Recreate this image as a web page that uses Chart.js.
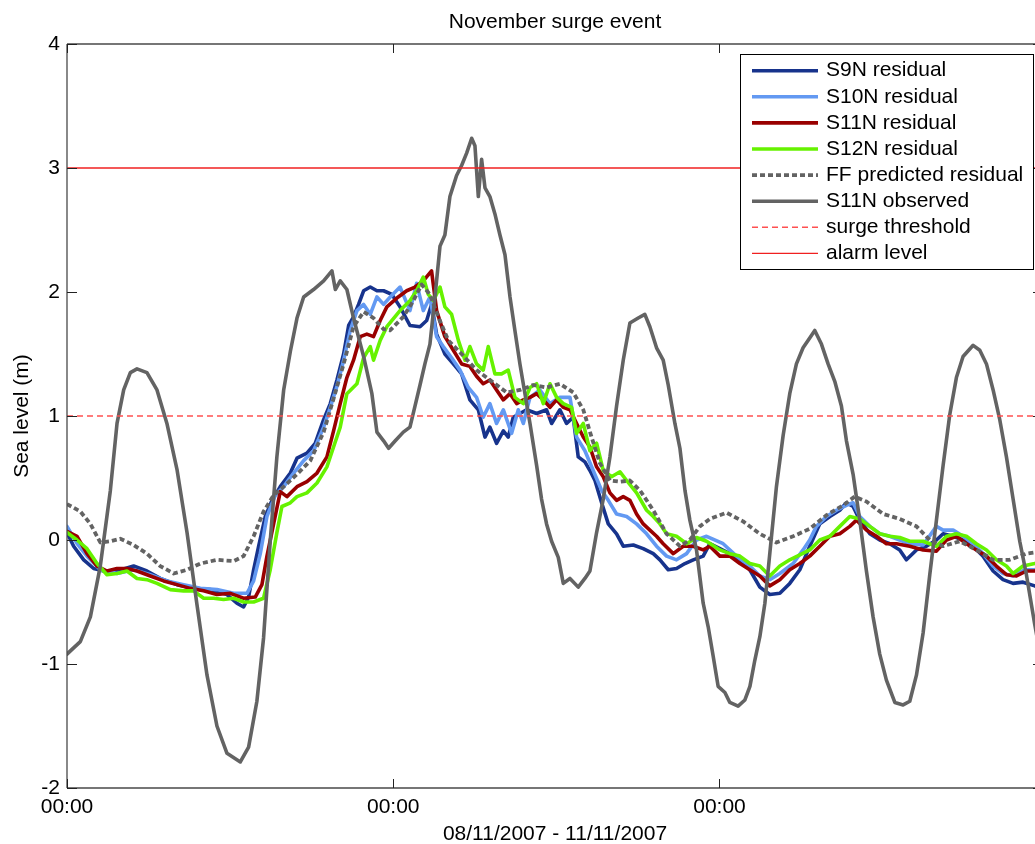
<!DOCTYPE html>
<html>
<head>
<meta charset="utf-8">
<title>November surge event</title>
<script src="https://cdn.jsdelivr.net/npm/chart.js@4.4.1/dist/chart.umd.min.js"></script>
<style>
  html, body { margin: 0; padding: 0; overflow: hidden; background: #ffffff; }
  #wrap { position: absolute; left: 0; top: 0; width: 1050px; height: 844px; }
  canvas { display: block; }
</style>
</head>
<body>
<div id="wrap"><canvas id="surge" width="1050" height="844" style="width:1050px;height:844px"></canvas></div>
<script>
// Time axis: hours since 08/11/2007 00:00
const timeTicks = [0, 24, 48];
const timeTickLabels = ['00:00', '00:00', '00:00'];
const levelTicks = [-2, -1, 0, 1, 2, 3, 4];
const timeSpan = [0, 71.8];

const surgeThreshold = 1;
const alarmLevel = 3;

// [hour, sea level (m)]
const s9nResidual = [
  [0,0.06],[0.49,-0.05],[1.23,-0.16],[1.96,-0.23],[2.70,-0.25],[3.68,-0.25],[4.90,-0.21],[5.88,-0.25],[6.86,-0.31],[8.09,-0.36],
  [9.32,-0.39],[10.54,-0.40],[11.77,-0.44],[12.50,-0.51],[12.99,-0.54],[13.36,-0.46],[13.73,-0.24],[14.10,-0.05],[14.59,0.19],[15.08,0.32],
  [15.69,0.43],[16.43,0.54],[16.92,0.66],[17.65,0.70],[18.26,0.78],[18.88,0.97],[19.37,1.10],[19.86,1.29],[20.35,1.50],[20.72,1.73],
  [21.08,1.80],[21.45,1.90],[21.82,2.01],[22.31,2.04],[22.80,2.01],[23.29,2.01],[23.90,1.98],
  [24.50,1.88],[25.23,1.73],[25.97,1.72],[26.46,1.77],[26.82,1.90],[27.19,1.66],[27.80,1.50],[28.42,1.42],[29.03,1.34],[29.64,1.13],
  [30.26,1.05],[30.75,0.83],[31.11,0.91],[31.60,0.78],[32.10,0.88],[32.46,0.83],[32.83,0.99],[33.32,1.02],[33.81,1.05],[34.55,1.02],
  [35.28,1.05],[35.65,0.94],[36.26,1.05],[36.75,0.94],[37.24,0.99],[37.61,0.67],[38.10,0.63],[38.47,0.56],[38.84,0.48],[39.33,0.30],
  [39.82,0.13],[40.43,0.05],[40.92,-0.05],[41.66,-0.04],[42.39,-0.07],[43.13,-0.11],[43.62,-0.16],[44.23,-0.24],[44.84,-0.23],[45.46,-0.19],
  [46.07,-0.16],[46.80,-0.13],
  [47.29,-0.03],[48.03,-0.07],[48.76,-0.11],[49.50,-0.16],[50.23,-0.24],[50.97,-0.38],[51.70,-0.44],[52.44,-0.43],
  [53.17,-0.35],[53.91,-0.24],[54.64,-0.05],[55.38,0.13],[56.12,0.19],[56.85,0.24],[57.34,0.30],[57.83,0.27],[58.32,0.16],[59.06,0.05],
  [59.79,0.00],[60.53,-0.03],[61.26,-0.08],[61.75,-0.16],[62.49,-0.08],[63.22,-0.05],[63.96,0.00],[64.45,0.05],[65.19,0.03],[65.92,0.00],
  [66.66,-0.05],[67.39,-0.13],[68.13,-0.25],[68.86,-0.32],[69.60,-0.35],[70.33,-0.34],[71.19,-0.37],[71.8,-0.40]
];

const s10nResidual = [
  [0,0.11],[0.74,-0.03],[1.47,-0.13],[2.45,-0.24],[3.68,-0.27],[4.90,-0.24],[6.13,-0.28],[7.35,-0.33],[8.58,-0.36],[9.81,-0.39],
  [11.03,-0.40],[12.26,-0.43],[13.24,-0.43],[13.73,-0.33],[14.22,-0.11],[14.71,0.19],[15.32,0.36],[15.94,0.43],[16.67,0.54],[17.41,0.64],
  [18.14,0.72],[18.88,0.91],[19.37,1.07],[19.86,1.24],[20.35,1.45],[20.84,1.69],[21.33,1.85],[21.82,1.90],[22.31,1.82],[22.80,1.96],
  [23.29,1.90],[23.78,1.96],
  [24.50,2.04],[25.23,1.85],[25.72,2.07],[26.21,1.85],[26.70,1.96],[27.19,1.64],[27.68,1.56],[28.29,1.47],[28.91,1.37],[29.52,1.23],
  [30.13,1.15],[30.62,0.99],[31.11,1.10],[31.60,0.94],[32.10,1.05],[32.71,0.86],[33.20,1.05],[33.57,0.94],[34.06,1.15],[34.79,1.21],
  [35.53,1.10],[36.26,1.15],[37.00,1.15],[37.49,0.83],[38.10,0.72],[38.71,0.56],[39.33,0.40],[39.82,0.32],[40.43,0.21],[41.17,0.19],
  [41.90,0.13],[42.64,0.05],[43.37,-0.05],[44.11,-0.13],[44.84,-0.16],[45.58,-0.11],[46.31,0.00],[47.05,0.03],
  [48.27,-0.03],[49.25,-0.13],[50.23,-0.21],[50.97,-0.29],[51.70,-0.32],[52.44,-0.27],[53.42,-0.19],[54.15,-0.08],[54.64,0.00],[55.13,0.11],
  [55.87,0.19],[56.61,0.24],[57.34,0.28],[57.83,0.30],[58.32,0.19],[59.06,0.11],[59.79,0.05],[60.53,0.03],[61.26,0.00],[62.00,-0.03],
  [62.98,-0.04],[63.96,0.11],[64.45,0.08],[65.19,0.08],[65.92,0.03],[66.66,-0.03],[67.39,-0.11],[68.13,-0.21],[68.86,-0.27],[69.60,-0.29],
  [70.46,-0.24],[71.19,-0.24],[71.8,-0.22]
];

const s11nResidual = [
  [0,0.07],[0.74,0.03],[1.47,-0.11],[2.21,-0.21],[2.94,-0.25],[3.68,-0.23],[4.41,-0.23],[5.15,-0.25],[6.13,-0.29],[7.11,-0.33],
  [8.09,-0.36],[9.07,-0.39],[10.05,-0.41],[11.03,-0.44],[12.01,-0.43],[12.99,-0.47],[13.85,-0.46],[14.34,-0.36],[14.71,-0.13],[15.20,0.13],
  [15.69,0.39],[16.18,0.35],[16.92,0.43],[17.65,0.47],[18.39,0.54],[19.12,0.67],[19.61,0.88],[20.10,1.10],[20.59,1.31],[21.08,1.45],
  [21.57,1.64],[22.06,1.66],[22.55,1.64],[23.04,1.77],[23.53,1.88],
  [24.37,1.96],[24.99,2.01],[25.60,2.04],[26.21,2.09],[26.82,2.17],[27.19,1.85],[27.80,1.64],[28.42,1.53],[29.03,1.42],[29.64,1.40],
  [30.13,1.32],[30.62,1.26],[31.11,1.29],[31.60,1.21],[32.10,1.13],[32.59,1.18],[33.08,1.10],[33.57,1.13],[34.06,1.15],[34.55,1.18],
  [35.04,1.13],[35.53,1.07],[36.02,1.13],[36.51,1.07],[37.00,1.05],[37.49,0.94],[37.98,0.83],[38.47,0.75],[38.96,0.59],[39.45,0.51],
  [39.94,0.38],[40.43,0.32],[40.92,0.35],[41.41,0.32],[41.90,0.21],[42.39,0.13],[42.88,0.08],[43.37,0.03],[43.86,-0.03],[44.60,-0.11],
  [45.33,-0.05],[46.07,-0.05],[46.80,-0.08],
  [47.29,-0.05],[48.03,-0.13],[48.76,-0.13],[49.50,-0.19],[50.23,-0.24],[50.97,-0.29],[51.70,-0.37],[52.44,-0.32],[53.17,-0.24],[53.91,-0.19],
  [54.64,-0.13],[55.38,-0.05],[56.12,0.03],[56.85,0.05],[57.59,0.11],[58.08,0.16],[58.81,0.08],[59.55,0.03],[60.28,-0.03],[61.02,-0.03],
  [62.00,-0.05],[62.98,-0.08],[63.96,-0.09],[64.70,0.00],[65.43,0.03],[66.17,-0.03],[66.90,-0.08],[67.64,-0.13],[68.37,-0.21],[69.11,-0.28],
  [69.85,-0.29],[70.58,-0.25],[71.19,-0.25],[71.8,-0.23]
];

const s12nResidual = [
  [0,0.06],[0.74,0.00],[1.47,-0.07],[2.21,-0.19],[2.94,-0.28],[3.68,-0.27],[4.41,-0.25],[5.15,-0.31],[5.88,-0.32],[6.62,-0.35],
  [7.60,-0.40],[8.58,-0.41],[9.32,-0.41],[10.05,-0.47],[10.79,-0.47],[11.52,-0.48],[12.26,-0.47],[12.99,-0.50],[13.73,-0.50],[14.46,-0.47],
  [14.95,-0.24],[15.44,0.06],[15.81,0.27],[16.43,0.30],[16.92,0.35],[17.65,0.38],[18.39,0.46],[19.12,0.59],[19.61,0.75],[20.10,0.91],
  [20.59,1.18],[21.33,1.26],[21.82,1.47],[22.31,1.56],[22.55,1.45],[23.04,1.61],[23.53,1.72],
  [24.50,1.85],[25.23,1.93],[25.72,2.01],[26.21,2.12],[26.58,1.98],[26.95,1.93],[27.44,2.04],[27.80,1.88],[28.29,1.82],[28.79,1.61],
  [29.28,1.45],[29.64,1.56],[30.13,1.42],[30.62,1.37],[30.99,1.56],[31.48,1.34],[31.97,1.34],[32.46,1.37],[32.95,1.15],[33.57,1.10],
  [34.06,1.23],[34.55,1.26],[35.04,1.10],[35.53,1.26],[36.02,1.15],[36.51,1.10],[37.12,1.07],[37.49,0.86],[37.98,0.94],[38.47,0.72],
  [38.96,0.78],[39.45,0.56],[40.06,0.51],[40.68,0.55],[41.17,0.48],[41.90,0.38],[42.64,0.24],[43.13,0.19],[43.62,0.13],[44.11,0.05],
  [44.84,0.03],[45.58,-0.03],[46.31,0.02],[47.05,-0.01],
  [48.03,-0.08],[48.76,-0.11],[49.50,-0.13],[50.23,-0.19],[50.97,-0.21],[51.70,-0.29],[52.44,-0.21],[53.17,-0.16],[53.91,-0.12],[54.64,-0.08],
  [55.38,0.00],[56.12,0.03],[56.85,0.11],[57.59,0.19],[58.32,0.17],[59.06,0.11],[59.79,0.05],[60.53,0.03],[61.26,0.02],[62.00,-0.01],
  [62.98,-0.01],[63.96,-0.05],[64.70,0.03],[65.43,0.05],[66.17,0.03],[66.90,-0.03],[67.64,-0.08],[68.37,-0.16],[69.11,-0.21],[69.60,-0.27],
  [70.33,-0.21],[71.19,-0.19],[71.8,-0.17]
];

const ffPredicted = [
  [0,0.29],[0.98,0.23],[1.72,0.13],[2.45,-0.02],[3.19,-0.01],[3.92,0.01],[4.90,-0.04],[5.88,-0.11],[6.86,-0.21],[7.85,-0.27],
  [8.83,-0.24],[9.81,-0.19],[11.03,-0.16],[12.26,-0.17],[12.99,-0.13],[13.73,0.03],[14.46,0.23],[15.20,0.36],[15.94,0.43],[16.92,0.53],
  [17.90,0.64],[18.88,0.87],[19.61,1.14],[20.35,1.42],[21.08,1.72],[21.82,1.84],[22.55,1.79],[23.29,1.70],[23.76,1.69],[24.74,1.80],
  [25.48,1.93],[26.09,2.06],[26.70,1.98],[27.31,1.80],[28.05,1.61],[29.03,1.50],[30.13,1.37],[31.36,1.27],[32.34,1.19],[33.32,1.21],
  [34.30,1.25],[35.28,1.23],[36.26,1.26],[37.24,1.19],[37.98,1.05],[38.59,0.83],[39.20,0.62],[39.94,0.48],[40.68,0.47],[41.41,0.48],
  [42.15,0.40],[43.13,0.24],[44.11,0.05],[45.09,-0.05],[45.82,0.00],[46.56,0.11],[47.29,0.17],[48.52,0.22],[49.74,0.15],[50.97,0.05],
  [52.19,-0.02],[53.42,0.03],[54.64,0.09],[55.87,0.20],[57.10,0.28],[57.95,0.35],[58.81,0.31],[60.04,0.21],[61.26,0.17],[62.49,0.11],
  [63.47,0.00],[64.45,-0.05],[65.68,-0.01],[66.90,-0.08],[68.13,-0.16],[69.35,-0.16],[70.58,-0.11],[71.19,-0.10],[71.8,-0.09]
];

const s11nObserved = [
  [0,-0.92],[0.98,-0.82],[1.72,-0.62],[2.45,-0.21],[3.19,0.40],[3.68,0.94],[4.17,1.21],[4.66,1.35],[5.15,1.38],[5.88,1.35],
  [6.62,1.21],[7.35,0.94],[8.09,0.57],[8.83,0.06],[9.56,-0.52],[10.30,-1.09],[11.03,-1.50],[11.77,-1.72],[12.75,-1.79],[13.36,-1.67],
  [13.97,-1.30],[14.46,-0.79],[14.95,-0.01],[15.44,0.67],[15.94,1.21],[16.43,1.52],[16.92,1.79],[17.41,1.96],[18.14,2.02],[18.88,2.09],
  [19.49,2.17],[19.74,2.02],[20.10,2.09],[20.59,2.02],[21.08,1.79],[21.82,1.48],[22.43,1.18],[22.80,0.87],[23.29,0.80],[23.66,0.74],
  [24.15,0.80],[24.74,0.87],[25.23,0.91],[25.60,1.08],[25.97,1.25],[26.33,1.42],[26.70,1.58],[27.07,1.96],[27.44,2.37],[27.80,2.46],
  [28.17,2.77],[28.66,2.94],[29.03,3.02],[29.40,3.12],[29.77,3.24],[30.01,3.18],[30.26,2.77],[30.50,3.07],[30.75,2.84],[31.11,2.77],
  [31.48,2.63],[31.85,2.46],[32.22,2.30],[32.59,1.96],[32.95,1.69],[33.32,1.42],[33.69,1.18],[34.06,0.94],[34.55,0.60],[34.91,0.33],
  [35.28,0.13],[35.65,-0.01],[36.14,-0.14],[36.51,-0.35],[37.00,-0.31],[37.61,-0.38],[38.10,-0.31],[38.47,-0.25],[38.96,0.06],[39.45,0.33],
  [39.94,0.67],[40.43,1.08],[40.92,1.45],[41.41,1.75],[42.02,1.79],[42.51,1.82],[42.88,1.72],[43.37,1.55],[43.86,1.45],[44.23,1.25],
  [44.72,0.94],[45.09,0.74],[45.46,0.40],[45.82,0.16],[46.31,-0.08],[46.80,-0.51],[47.17,-0.70],[47.54,-0.94],[47.90,-1.18],[48.40,-1.23],
  [48.76,-1.31],[49.37,-1.34],[49.87,-1.29],[50.24,-1.18],[50.60,-0.97],[50.97,-0.78],[51.34,-0.51],[51.71,-0.10],[52.19,0.43],[52.68,0.84],
  [53.17,1.18],[53.66,1.42],[54.15,1.55],[54.64,1.63],[55.01,1.69],[55.50,1.58],[55.99,1.42],[56.48,1.28],[56.97,1.08],[57.34,0.80],
  [57.83,0.53],[58.32,0.16],[58.81,-0.25],[59.30,-0.62],[59.79,-0.92],[60.28,-1.13],[60.90,-1.31],[61.51,-1.33],[62.00,-1.30],[62.49,-1.09],
  [62.98,-0.75],[63.47,-0.28],[63.96,0.16],[64.45,0.60],[64.94,1.01],[65.43,1.31],[65.92,1.48],[66.66,1.57],[67.15,1.53],[67.64,1.42],
  [68.13,1.21],[68.62,0.97],[69.11,0.67],[69.60,0.33],[70.09,-0.01],[70.58,-0.28],[71.19,-0.68],[71.8,-1.05]
];

const FONT = '"Liberation Sans", Arial, Helvetica, sans-serif';
const toPoints = rows => rows.map(r => ({ x: r[0], y: r[1] }));
const flatLine = level => [{ x: timeSpan[0], y: level }, { x: timeSpan[1], y: level }];

function line(label, data, color, width, order, dash) {
  return {
    label, data: toPoints(data), borderColor: color, backgroundColor: color,
    borderWidth: width, borderDash: dash || [], pointRadius: 0, pointHoverRadius: 0,
    fill: false, tension: 0, order, borderJoinStyle: 'round', borderCapStyle: dash ? 'butt' : 'round'
  };
}

const datasets = [
  line('S9N residual', s9nResidual, '#17338c', 3.6, 8),
  line('S10N residual', s10nResidual, '#6399f2', 3.6, 7),
  line('S11N residual', s11nResidual, '#990000', 3.6, 6),
  line('S12N residual', s12nResidual, '#66f200', 3.6, 5),
  line('FF predicted residual', ffPredicted, '#636363', 3.8, 4, [5, 3]),
  line('S11N observed', s11nObserved, '#636363', 3.6, 3),
  { label: 'surge threshold', data: flatLine(surgeThreshold), borderColor: '#ff5050', borderWidth: 1.4,
    borderDash: [6, 4], pointRadius: 0, fill: false, tension: 0, order: 2 },
  { label: 'alarm level', data: flatLine(alarmLevel), borderColor: '#f02020', borderWidth: 1.3,
    pointRadius: 0, fill: false, tension: 0, order: 1 }
];

// Axes frame, inward tick marks, titles and the boxed legend
const decorations = {
  id: 'decorations',
  afterDraw(chart) {
    const { ctx, chartArea: a, scales } = chart;
    ctx.save();

    ctx.strokeStyle = '#4a4a4a';
    ctx.lineWidth = 1.3;
    ctx.beginPath();
    ctx.moveTo(a.left, a.top); ctx.lineTo(a.right, a.top);
    ctx.moveTo(a.left, a.bottom); ctx.lineTo(a.right, a.bottom);
    ctx.moveTo(a.left, a.top); ctx.lineTo(a.left, a.bottom);
    ctx.moveTo(a.right, a.top); ctx.lineTo(a.right, a.bottom);
    ctx.stroke();

    ctx.strokeStyle = '#222222';
    ctx.lineWidth = 1;
    ctx.beginPath();
    levelTicks.forEach(v => {
      const y = Math.round(scales.y.getPixelForValue(v)) + 0.5;
      ctx.moveTo(a.left, y); ctx.lineTo(a.left + 10, y);
      ctx.moveTo(a.right, y); ctx.lineTo(a.right - 10, y);
    });
    timeTicks.forEach(v => {
      const x = Math.round(scales.x.getPixelForValue(v)) + 0.5;
      ctx.moveTo(x, a.bottom); ctx.lineTo(x, a.bottom - 9);
      ctx.moveTo(x, a.top); ctx.lineTo(x, a.top + 9);
    });
    ctx.stroke();

    const cx = (a.left + a.right) / 2;
    ctx.fillStyle = '#000000';
    ctx.font = '21px ' + FONT;
    ctx.textAlign = 'center';
    ctx.textBaseline = 'alphabetic';
    ctx.fillText('November surge event', cx, 28);
    ctx.fillText('08/11/2007 - 11/11/2007', cx, 840);
    ctx.save();
    ctx.translate(28, (a.top + a.bottom) / 2);
    ctx.rotate(-Math.PI / 2);
    ctx.fillText('Sea level (m)', 0, 0);
    ctx.restore();

    // legend
    const box = { x: 740.5, y: 54.5, w: 293, h: 215 };
    const firstRow = 70.7, rowGap = 26.1;
    ctx.fillStyle = '#ffffff';
    ctx.fillRect(box.x, box.y, box.w, box.h);
    ctx.strokeStyle = '#000000';
    ctx.lineWidth = 1;
    ctx.strokeRect(box.x, box.y, box.w, box.h);
    ctx.textAlign = 'left';
    ctx.textBaseline = 'middle';
    chart.data.datasets.forEach((ds, i) => {
      const y = firstRow + i * rowGap;
      ctx.save();
      ctx.strokeStyle = ds.borderColor;
      ctx.lineWidth = ds.borderWidth;
      ctx.setLineDash(ds.borderDash || []);
      ctx.lineCap = 'butt';
      ctx.beginPath();
      ctx.moveTo(752, y); ctx.lineTo(818, y);
      ctx.stroke();
      ctx.restore();
      ctx.fillStyle = '#000000';
      ctx.fillText(ds.label, 826, y);
    });
    ctx.restore();
  }
};

new Chart(document.getElementById('surge'), {
  type: 'line',
  data: { datasets },
  options: {
    responsive: false,
    animation: false,
    devicePixelRatio: 1,
    layout: { padding: { left: 0, top: 44, right: 7, bottom: 0 } },
    plugins: { legend: { display: false }, title: { display: false }, tooltip: { enabled: false } },
    scales: {
      x: {
        type: 'linear', min: timeSpan[0], max: timeSpan[1],
        grid: { display: false, drawTicks: false },
        border: { display: false },
        afterFit: s => { s.height = 56; },
        afterBuildTicks: s => { s.ticks = timeTicks.map(v => ({ value: v })); },
        ticks: {
          autoSkip: false, maxRotation: 0, minRotation: 0, padding: 7, color: '#000000',
          font: { family: FONT, size: 21 },
          callback: v => { const i = timeTicks.indexOf(v); return i >= 0 ? timeTickLabels[i] : ''; }
        }
      },
      y: {
        type: 'linear', min: levelTicks[0], max: levelTicks[levelTicks.length - 1],
        grid: { display: false, drawTicks: false },
        border: { display: false },
        afterFit: s => { s.width = 67; },
        afterBuildTicks: s => { s.ticks = levelTicks.map(v => ({ value: v })); },
        ticks: {
          padding: 7, color: '#000000',
          font: { family: FONT, size: 21 },
          callback: v => String(v)
        }
      }
    }
  },
  plugins: [decorations]
});
</script>
</body>
</html>
